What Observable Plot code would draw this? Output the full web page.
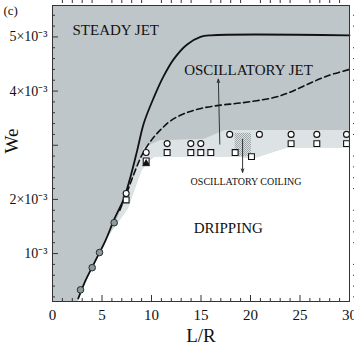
<!DOCTYPE html>
<html><head><meta charset="utf-8">
<script src="https://cdn.jsdelivr.net/npm/d3@7"></script>
<script src="https://cdn.jsdelivr.net/npm/@observablehq/plot@0.6"></script>
<style>html,body{margin:0;padding:0;background:#fff;overflow:hidden}</style>
</head><body><div id="chart"></div>
<script>
// ---- data (We in absolute units) ----
const solidLR = [2.6, 3.33, 4.34, 5.35, 6.23, 7.2, 7.88, 8.55, 9.23, 10.23, 11.24, 12.25, 13.6, 14.95, 16.0, 30];
const solidWe = [0.17e-3, 0.50e-3, 0.87e-3, 1.24e-3, 1.63e-3, 2.01e-3, 2.42e-3, 2.90e-3, 3.41e-3, 3.88e-3, 4.28e-3, 4.59e-3, 4.86e-3, 5.00e-3, 5.03e-3, 5.03e-3];
const dashLR = [6.8, 7.5, 8.35, 9.15, 10.1, 11.0, 12.0, 13.4, 15.0, 17.0, 19.0, 22.35, 24.0, 25.7, 27.75, 30];
const dashWe = [1.80e-3, 2.12e-3, 2.53e-3, 2.86e-3, 3.12e-3, 3.30e-3, 3.46e-3, 3.59e-3, 3.68e-3, 3.74e-3, 3.78e-3, 3.88e-3, 3.98e-3, 4.12e-3, 4.28e-3, 4.40e-3];

// region boundaries
const whiteLR = [2.55, 3.33, 4.34, 5.35, 5.9, 7.6, 9.0, 9.8, 10.3, 17.0, 18.45, 20.3, 23.7, 30, 30];
const whiteWe = [0.115e-3, 0.48e-3, 0.85e-3, 1.22e-3, 1.40e-3, 1.83e-3, 2.55e-3, 2.72e-3, 2.79e-3, 2.79e-3, 2.79e-3, 2.76e-3, 2.96e-3, 2.96e-3, 0.115e-3];
const lightLR = [5.9, 7.0, 8.4, 9.2, 10.8, 15.3, 17.4, 30, 30, 23.7, 20.3, 18.45, 17.0, 10.3, 9.8, 9.0, 7.6];
const lightWe = [1.40e-3, 1.84e-3, 2.50e-3, 2.96e-3, 3.09e-3, 3.12e-3, 3.28e-3, 3.28e-3, 2.96e-3, 2.96e-3, 2.76e-3, 2.79e-3, 2.79e-3, 2.79e-3, 2.72e-3, 2.55e-3, 1.83e-3];
const coilLR = [18.45, 20.1];
const coilWe = [2.79e-3, 3.22e-3];

// markers
const grayLR = [2.83, 4.01, 4.75, 6.23];
const grayWe = [0.33e-3, 0.74e-3, 1.02e-3, 1.57e-3];
const circLR = [7.44, 9.46, 11.58, 13.97, 14.98, 17.9, 20.9, 24.1, 26.7, 29.7];
const circWe = [2.11e-3, 2.865e-3, 3.03e-3, 3.03e-3, 3.03e-3, 3.2e-3, 3.2e-3, 3.2e-3, 3.2e-3, 3.2e-3];
const sqLR = [7.44, 9.46, 11.58, 13.97, 14.98, 15.99, 18.45, 20.1, 24.1, 26.7, 29.7];
const sqWe = [1.99e-3, 2.71e-3, 2.865e-3, 2.865e-3, 2.865e-3, 2.865e-3, 2.865e-3, 2.79e-3, 3.03e-3, 3.03e-3, 3.03e-3];
const triLR = [9.46];
const triWe = [2.66e-3];

// arrows [x1, y1, x2, y2]
const arrowJet = [16.9, 3.02e-3, 16.75, 4.22e-3];
const arrowCoil = [19.2, 3.11e-3, 19.2, 2.50e-3];

// labels
const steadyText = ["STEADY JET"], steadyLR = [2.02], steadyWe = [5.125e-3];
const oscText = ["OSCILLATORY JET"], oscLR = [19.8], oscWe = [4.394e-3];
const dripText = ["DRIPPING"], dripLR = [17.75], dripWe = [1.466e-3];
const coilText = ["OSCILLATORY COILING"], coilTextLR = [19.55], coilTextWe = [2.33e-3];

// ticks
const xMajor = [0, 5, 10, 15, 20, 25, 30];
const xMinor = [1, 2, 3, 4, 6, 7, 8, 9, 11, 12, 13, 14, 16, 17, 18, 19, 21, 22, 23, 24, 26, 27, 28, 29];
const yLabeled = [1e-3, 2e-3, 4e-3, 5e-3];
const yMajor = [1e-3, 2e-3, 3e-3, 4e-3, 5e-3];
const yMinor = [0.2e-3, 0.4e-3, 0.6e-3, 0.8e-3, 1.2e-3, 1.4e-3, 1.6e-3, 1.8e-3, 2.2e-3, 2.4e-3, 2.6e-3, 2.8e-3, 3.2e-3, 3.4e-3, 3.6e-3, 3.8e-3, 4.2e-3, 4.4e-3, 4.6e-3, 4.8e-3, 5.2e-3, 5.4e-3];

const DARK = "#bec6c9", LIGHT = "#dde3e5";
const FONT = "Liberation Serif, Times New Roman, serif";
const pts = (xs, ys) => xs.map((x, i) => ({x, y: ys[i]}));
const fmtY = v => { const m = Math.round(v * 1000); return m === 1 ? "10⁻³" : m + "×10⁻³"; };
const label = (txt, xs, ys, opts) => Plot.text(txt, {x: (d, i) => xs[i], y: (d, i) => ys[i], text: d => d, fill: "#111", ...opts});

const tickAxes = [];
for (const [vals, size] of [[xMajor, 6], [xMinor, 3]]) {
  tickAxes.push(Plot.axisX(vals, {anchor: "bottom", tickSize: size, dy: -size, fill: "none", label: null, stroke: "#333"}));
  tickAxes.push(Plot.axisX(vals, {anchor: "top", tickSize: size, dy: -size, fill: "none", label: null, stroke: "#333"}));
}
for (const [vals, size] of [[yMajor, 6], [yMinor, 3]]) {
  tickAxes.push(Plot.axisY(vals, {anchor: "left", tickSize: size, dx: size, fill: "none", label: null, stroke: "#333"}));
  tickAxes.push(Plot.axisY(vals, {anchor: "right", tickSize: size, dx: size, fill: "none", label: null, stroke: "#333"}));
}

const chart = Plot.plot({
  width: 354, height: 354,
  marginLeft: 52, marginRight: 5, marginTop: 5, marginBottom: 53,
  style: {fontFamily: FONT, background: "#fff"},
  x: {domain: [0, 30]},
  y: {domain: [0.115e-3, 5.58e-3]},
  marks: [
    Plot.frame({fill: DARK, stroke: "none"}),
    Plot.line(pts(whiteLR, whiteWe), {x: "x", y: "y", fill: "#fff", stroke: "none"}),
    Plot.line(pts(lightLR, lightWe), {x: "x", y: "y", fill: LIGHT, stroke: "none"}),
    Plot.rect([0], {x1: () => coilLR[0], x2: () => coilLR[1], y1: () => coilWe[0], y2: () => coilWe[1], fill: "url(#coilpat)"}),
    Plot.line(pts(solidLR, solidWe), {x: "x", y: "y", stroke: "#111", strokeWidth: 1.8, curve: "catmull-rom"}),
    Plot.line(pts(dashLR, dashWe), {x: "x", y: "y", stroke: "#111", strokeWidth: 1.6, strokeDasharray: "6,3.5", curve: "catmull-rom"}),
    Plot.arrow([arrowJet, arrowCoil], {x1: d => d[0], y1: d => d[1], x2: d => d[2], y2: d => d[3], stroke: "#222", strokeWidth: 0.9, headLength: 6, headAngle: 40}),
    Plot.dot(pts(grayLR, grayWe), {x: "x", y: "y", r: 3.3, fill: "#8e999c", stroke: "#2a2a2a", strokeWidth: 1}),
    Plot.dot(pts(circLR, circWe), {x: "x", y: "y", r: 3, fill: "#fff", stroke: "#111", strokeWidth: 1.1, clip: true}),
    Plot.dot(pts(sqLR, sqWe), {x: "x", y: "y", symbol: "square", r: 3.3, fill: "#fff", stroke: "#111", strokeWidth: 1.1, clip: true}),
    Plot.dot(pts(triLR, triWe), {x: "x", y: "y", symbol: "triangle", r: 2.6, fill: "#111", stroke: "#111", strokeWidth: 0.8}),
    label(steadyText, steadyLR, steadyWe, {textAnchor: "start", fontSize: 15}),
    label(oscText, oscLR, oscWe, {fontSize: 15}),
    label(dripText, dripLR, dripWe, {fontSize: 15}),
    label(coilText, coilTextLR, coilTextWe, {fontSize: 10}),
    ...tickAxes,
    Plot.axisX(xMajor, {anchor: "bottom", tickSize: 0, tickPadding: 8, fontSize: 15, label: null, fill: "#111"}),
    Plot.axisY(yLabeled, {anchor: "left", tickSize: 0, tickPadding: 5, fontSize: 14, label: null, tickFormat: fmtY, fill: "#111"}),
    Plot.text(["We"], {frameAnchor: "left", dx: -41, rotate: -90, fontSize: 19, fill: "#111"}),
    Plot.text(["L/R"], {frameAnchor: "bottom", dy: 40, fontSize: 19, fill: "#111"}),
    Plot.text(["(c)"], {frameAnchor: "top-left", dx: -49, dy: 0, textAnchor: "start", lineAnchor: "top", fontSize: 13, fill: "#111"}),
    Plot.frame({stroke: "#333", strokeWidth: 1})
  ]
});

// pattern for the oscillatory coiling patch
const defs = d3.select(chart).insert("defs", ":first-child");
const pat = defs.append("pattern").attr("id", "coilpat").attr("width", 2).attr("height", 2).attr("patternUnits", "userSpaceOnUse");
pat.append("rect").attr("width", 2).attr("height", 2).attr("fill", "#dadedf");
pat.append("rect").attr("width", 1).attr("height", 1).attr("fill", "#a2a9ab");
pat.append("rect").attr("x", 1).attr("y", 1).attr("width", 1).attr("height", 1).attr("fill", "#a2a9ab");

document.getElementById("chart").appendChild(chart);
</script>
</body></html>
